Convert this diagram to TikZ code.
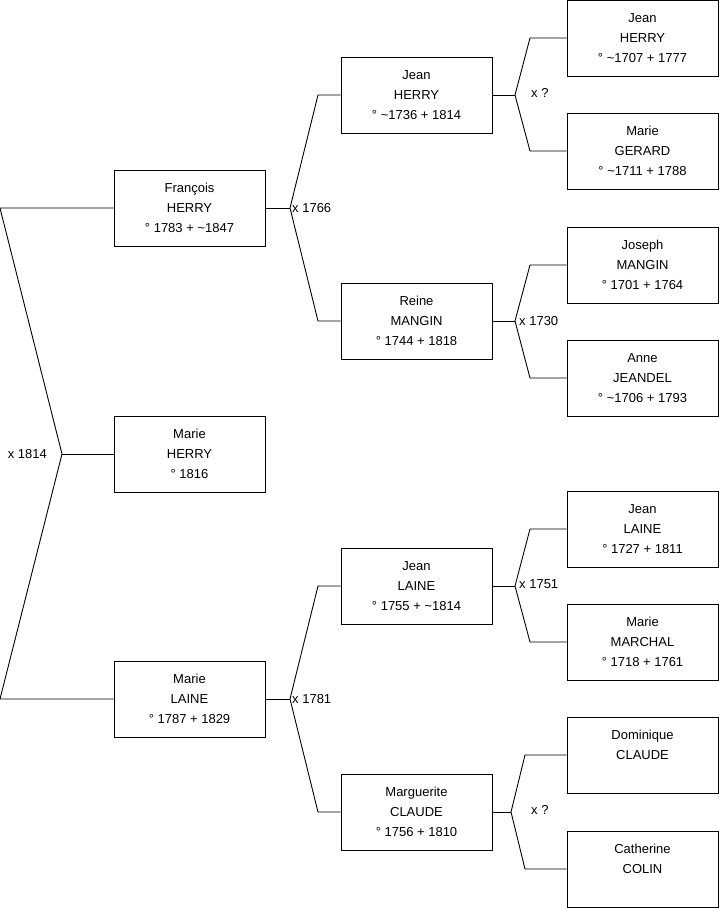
\documentclass[tikz,border=0pt]{standalone}
\usepackage{fontspec}
\setmainfont{Liberation Sans}
\begin{document}
\begin{tikzpicture}[x=1pt,y=-1pt,
  person/.style={draw=black, line width=0.9pt, minimum width=151pt, minimum height=76pt,
    inner sep=0pt, align=center, font=\fontsize{13}{20}\selectfont},
  link/.style={draw=black, line width=0.9pt},
  mlabel/.style={inner sep=0pt, font=\fontsize{13}{14}\selectfont}]
\useasboundingbox (0,0) rectangle (719,908);
% generation 1
\node[person] (g1a) at (189.5,208) {François\\HERRY\\° 1783 + \textasciitilde1847};
\node[person] (g1b) at (189.5,454) {Marie\\HERRY\\° 1816};
\node[person] (g1c) at (189.5,699) {Marie\\LAINE\\° 1787 + 1829};
% generation 2
\node[person] (g2a) at (416.5,95) {Jean\\HERRY\\° \textasciitilde1736 + 1814};
\node[person] (g2b) at (416.5,321) {Reine\\MANGIN\\° 1744 + 1818};
\node[person] (g2c) at (416.5,586) {Jean\\LAINE\\° 1755 + \textasciitilde1814};
\node[person] (g2d) at (416.5,812) {Marguerite\\CLAUDE\\° 1756 + 1810};
% generation 3
\node[person] (g3a) at (642.5,38) {Jean\\HERRY\\° \textasciitilde1707 + 1777};
\node[person] (g3b) at (642.5,151) {Marie\\GERARD\\° \textasciitilde1711 + 1788};
\node[person] (g3c) at (642.5,265) {Joseph\\MANGIN\\° 1701 + 1764};
\node[person] (g3d) at (642.5,378) {Anne\\JEANDEL\\° \textasciitilde1706 + 1793};
\node[person] (g3e) at (642.5,529) {Jean\\LAINE\\° 1727 + 1811};
\node[person] (g3f) at (642.5,642) {Marie\\MARCHAL\\° 1718 + 1761};
\node[person] (g3g) at (642.5,755) {Dominique\\CLAUDE\\\mbox{}};
\node[person] (g3h) at (642.5,869) {Catherine\\COLIN\\\mbox{}};
% couple vertices and corners
\coordinate (v0) at (62,454);
\coordinate (c0a) at (0,208);
\coordinate (c0b) at (0,699);
\draw[link] (g1a.west) -- (c0a) -- (v0) -- (c0b) -- (g1c.west);
\draw[link] (v0) -- (g1b.west);
\node[mlabel, anchor=east] (l0) at (47,454) {x 1814};
% François's parents
\coordinate (v1) at (290,208);
\coordinate (c1a) at (318,95);
\coordinate (c1b) at (318,321);
\draw[link] (g1a.east) -- (v1);
\draw[link] (g2a.west) -- (c1a) -- (v1) -- (c1b) -- (g2b.west);
\node[mlabel, anchor=west] (l1) at (292,208) {x 1766};
% Marie LAINE's parents
\coordinate (v2) at (290,699);
\coordinate (c2a) at (318,586);
\coordinate (c2b) at (318,812);
\draw[link] (g1c.east) -- (v2);
\draw[link] (g2c.west) -- (c2a) -- (v2) -- (c2b) -- (g2d.west);
\node[mlabel, anchor=west] (l2) at (292,699) {x 1781};
% generation 3 couples
\coordinate (v3) at (515,95);
\coordinate (c3a) at (530,38);
\coordinate (c3b) at (530,151);
\draw[link] (g2a.east) -- (v3);
\draw[link] (g3a.west) -- (c3a) -- (v3) -- (c3b) -- (g3b.west);
\node[mlabel, anchor=west] (l3) at (531,93) {x ?};
\coordinate (v4) at (515,321);
\coordinate (c4a) at (530,265);
\coordinate (c4b) at (530,378);
\draw[link] (g2b.east) -- (v4);
\draw[link] (g3c.west) -- (c4a) -- (v4) -- (c4b) -- (g3d.west);
\node[mlabel, anchor=west] (l4) at (519,321) {x 1730};
\coordinate (v5) at (515,586);
\coordinate (c5a) at (530,529);
\coordinate (c5b) at (530,642);
\draw[link] (g2c.east) -- (v5);
\draw[link] (g3e.west) -- (c5a) -- (v5) -- (c5b) -- (g3f.west);
\node[mlabel, anchor=west] (l5) at (519,584) {x 1751};
\coordinate (v6) at (511,812);
\coordinate (c6a) at (525,755);
\coordinate (c6b) at (525,869);
\draw[link] (g2d.east) -- (v6);
\draw[link] (g3g.west) -- (c6a) -- (v6) -- (c6b) -- (g3h.west);
\node[mlabel, anchor=west] (l6) at (531,810) {x ?};
\end{tikzpicture}
\end{document}
